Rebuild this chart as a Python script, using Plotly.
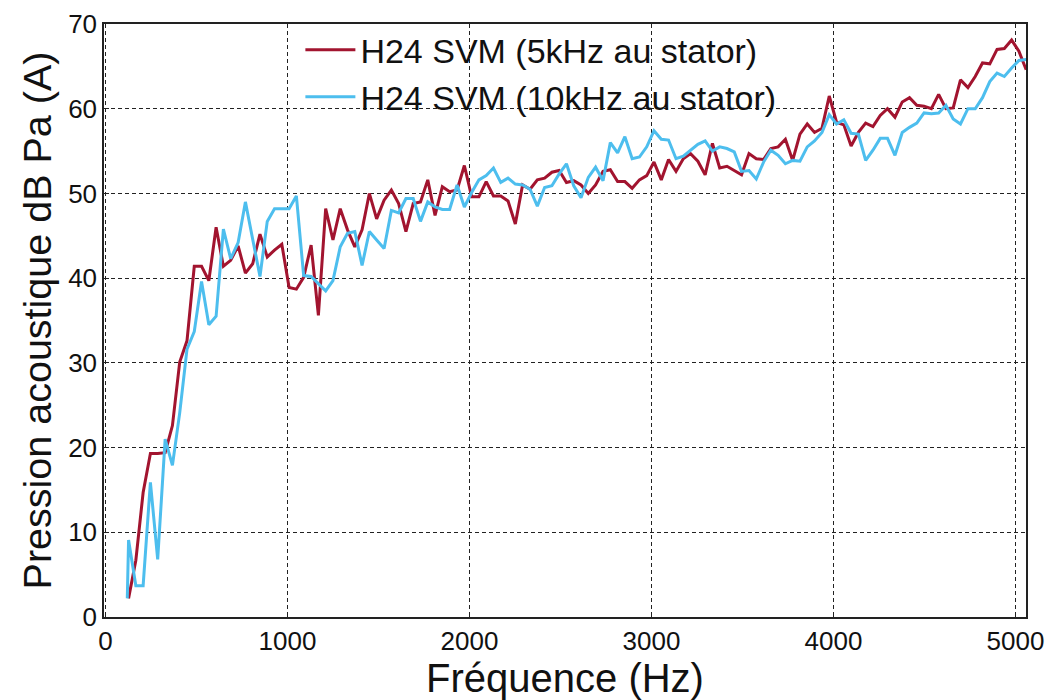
import plotly.graph_objects as go

freq = [127, 167, 207, 247, 287, 328, 368, 408, 448, 488,
        528, 568, 608, 648, 688, 729, 769, 809, 849, 889,
        929, 969, 1009, 1049, 1089, 1130, 1170, 1210, 1250, 1290,
        1330, 1370, 1410, 1450, 1490, 1531, 1571, 1611, 1651, 1691,
        1731, 1771, 1811, 1851, 1891, 1932, 1972, 2012, 2052, 2092,
        2132, 2172, 2212, 2252, 2292, 2333, 2373, 2413, 2453, 2493,
        2533, 2573, 2613, 2653, 2693, 2734, 2774, 2814, 2854, 2894,
        2934, 2974, 3014, 3054, 3094, 3135, 3175, 3215, 3255, 3295,
        3335, 3375, 3415, 3455, 3495, 3536, 3576, 3616, 3656, 3696,
        3736, 3776, 3816, 3856, 3896, 3937, 3977, 4017, 4057, 4097,
        4137, 4177, 4217, 4257, 4297, 4338, 4378, 4418, 4458, 4498,
        4538, 4578, 4618, 4658, 4698, 4739, 4779, 4819, 4859, 4899,
        4939, 4979, 5019, 5059]

svm_5k = [2.2, 6.7, 14.7, 19.3, 19.3, 19.4, 22.6, 30.1, 32.6, 41.4,
          41.4, 39.7, 46.0, 41.4, 42.1, 43.8, 40.6, 41.7, 45.2, 42.5,
          43.3, 44.0, 38.9, 38.7, 40.1, 43.9, 35.6, 48.2, 44.5, 48.2,
          45.7, 43.7, 45.7, 50.0, 47.0, 49.2, 50.4, 48.8, 45.5, 48.8,
          49.0, 51.6, 47.4, 50.8, 50.2, 50.4, 53.3, 49.6, 49.6, 51.4,
          49.7, 49.7, 49.1, 46.4, 51.0, 50.5, 51.6, 51.8, 52.5, 52.7,
          51.3, 51.5, 51.0, 50.0, 51.0, 52.6, 52.8, 51.4, 51.4, 50.6,
          51.6, 52.1, 53.7, 51.6, 54.0, 52.6, 54.1, 54.7, 53.8, 52.2,
          55.9, 53.0, 53.2, 52.7, 52.2, 54.7, 54.1, 54.0, 55.3, 55.5,
          56.4, 53.9, 57.0, 58.2, 57.2, 57.7, 61.5, 58.4, 58.1, 55.6,
          57.2, 58.3, 57.9, 59.2, 60.0, 59.0, 60.8, 61.3, 60.4, 60.3,
          60.0, 61.7, 60.0, 60.1, 63.4, 62.5, 63.8, 65.4, 65.3, 67.0,
          67.1, 68.1, 66.8, 64.6]

freq_10k = [120] + freq
svm_10k = [2.2,
           9.1, 3.7, 3.7, 15.9, 6.8, 21.0, 17.9, 24.1, 31.6, 33.7,
           39.6, 34.5, 35.5, 45.8, 42.3, 44.2, 49.0, 44.6, 40.2, 46.7,
           48.2, 48.2, 48.2, 49.7, 40.3, 40.2, 39.3, 38.5, 39.7, 43.7,
           45.3, 45.5, 41.5, 45.5, 44.5, 43.5, 48.0, 47.7, 49.4, 49.4,
           46.7, 49.0, 48.4, 48.1, 48.1, 51.0, 48.4, 50.1, 51.6, 52.1,
           53.0, 51.3, 51.8, 51.1, 51.0, 50.5, 48.5, 50.7, 50.9, 52.3,
           53.5, 50.9, 49.5, 51.9, 53.1, 51.5, 56.0, 54.8, 56.7, 54.1,
           54.3, 55.5, 57.4, 56.4, 56.3, 54.1, 54.4, 55.1, 55.8, 56.2,
           55.0, 55.5, 55.3, 54.9, 52.6, 52.7, 51.7, 53.7, 55.1, 54.5,
           53.5, 53.9, 53.8, 55.5, 56.2, 57.2, 59.3, 58.2, 58.7, 57.1,
           57.0, 53.9, 55.1, 56.5, 56.5, 54.5, 57.2, 57.8, 58.3, 59.5,
           59.4, 59.5, 60.4, 58.8, 58.2, 60.0, 60.0, 61.3, 63.2, 64.2,
           63.8, 64.8, 65.7, 65.8]

x_ticks = [0, 1000, 2000, 3000, 4000, 5000]
y_ticks = [0, 10, 20, 30, 40, 50, 60, 70]

RED = "#A2142F"
BLUE = "#4DBEEE"
FONT = "Liberation Sans, Arial, sans-serif"

fig = go.Figure()
fig.add_trace(go.Scatter(x=freq, y=svm_5k, mode="lines",
                         name="H24 SVM (5kHz au stator)",
                         line=dict(color=RED, width=3)))
fig.add_trace(go.Scatter(x=freq_10k, y=svm_10k, mode="lines",
                         name="H24 SVM (10kHz au stator)",
                         line=dict(color=BLUE, width=3)))

axis_common = dict(
    showline=True, mirror=True, linecolor="#222222", linewidth=1.5,
    showgrid=True, gridcolor="#222222", gridwidth=1, griddash="4px,3px",
    ticks="inside", ticklen=5, tickcolor="#222222",
    zeroline=False, automargin=False,
    tickfont=dict(family=FONT, size=26, color="#111111"),
)

fig.update_xaxes(range=[-8, 5058], tickvals=x_ticks,
                 ticktext=[str(v) for v in x_ticks],
                 title=dict(text="Fréquence (Hz)",
                            font=dict(family=FONT, size=40, color="#111111"),
                            standoff=0),
                 **axis_common)
fig.update_yaxes(range=[0, 70], tickvals=y_ticks,
                 ticktext=[str(v) for v in y_ticks],
                 title=dict(text="Pression acoustique dB Pa (A)",
                            font=dict(family=FONT, size=39.5, color="#111111"),
                            standoff=4),
                 **axis_common)

# white panel behind the legend: hides the grid there, keeps the frame and traces
fig.add_shape(type="rect", xref="paper", yref="paper",
              x0=0.2, x1=0.75, y0=0.868, y1=1.0,
              fillcolor="white", line=dict(width=0), layer="between")

# the page adds an 8px body margin, so the figure is sized to compensate
fig.update_layout(
    width=1045, height=692,
    margin=dict(l=96, r=27, t=16, b=83),
    paper_bgcolor="white", plot_bgcolor="white",
    font=dict(family=FONT, color="#111111"),
    legend=dict(x=0.213, y=1.005, xanchor="left", yanchor="top",
                bgcolor="rgba(0,0,0,0)", borderwidth=0,
                font=dict(family=FONT, size=34, color="#111111"),
                itemwidth=50, tracegroupgap=0),
    showlegend=True,
)

fig.write_html("out.html")
